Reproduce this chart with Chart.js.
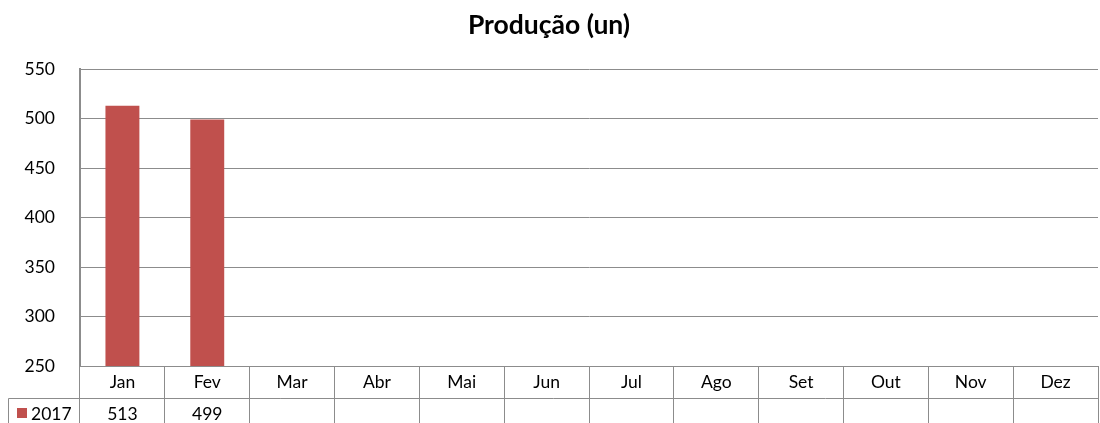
<!DOCTYPE html>
<html>
<head>
<meta charset="utf-8">
<script src="https://cdn.jsdelivr.net/npm/chart.js@4"></script>
<style>
  html, body { margin: 0; padding: 0; background: #fff; }
  #wrap { width: 1100px; height: 423px; }
</style>
</head>
<body>
<div id="wrap"><canvas id="chart"></canvas></div>
<script>
// dados
const meses = ['Jan', 'Fev', 'Mar', 'Abr', 'Mai', 'Jun', 'Jul', 'Ago', 'Set', 'Out', 'Nov', 'Dez'];
const serie = '2017';
const producao = [513, 499, null, null, null, null, null, null, null, null, null, null];
const yTicks = [250, 300, 350, 400, 450, 500, 550];

const fonte = 'Lato, "Liberation Sans", sans-serif';
const cinza = '#8c8c8c';
const vermelho = '#C0504D';

// linha de valores da tabela de dados (abaixo do eixo)
const tabelaPlugin = {
    id: 'tabela',
    afterDraw(chart) {
        const c = chart.ctx;
        const x = chart.scales.x;
        const top = chart.chartArea.bottom;
        const rowY = top + 32;
        c.save();
        c.strokeStyle = cinza;
        c.lineWidth = 1;
        c.beginPath();
        c.moveTo(8.5, rowY + 0.5);
        c.lineTo(chart.chartArea.right, rowY + 0.5);
        c.moveTo(8.5, rowY + 0.5);
        c.lineTo(8.5, chart.height);
        c.stroke();

        c.fillStyle = vermelho;
        c.fillRect(17, rowY + 10, 10, 10);
        c.fillStyle = '#000';
        c.font = '17.5px ' + fonte;
        c.textBaseline = 'middle';
        c.textAlign = 'left';
        c.fillText(serie, 31, rowY + 16);
        c.textAlign = 'center';
        producao.forEach((v, i) => {
            if (v !== null) c.fillText(String(v), x.getPixelForValue(i), rowY + 16);
        });
        c.restore();
    }
};

new Chart(document.getElementById('chart'), {
    type: 'bar',
    data: {
        labels: meses,
        datasets: [{
            label: serie,
            data: producao,
            backgroundColor: vermelho,
            categoryPercentage: 1,
            barPercentage: 0.4
        }]
    },
    options: {
        responsive: true,
        maintainAspectRatio: false,
        animation: false,
        layout: { padding: { left: 0, right: 2, top: 0, bottom: 0 } },
        plugins: {
            legend: { display: false },
            tooltip: { enabled: false },
            title: {
                display: true,
                text: 'Produção (un)',
                color: '#000',
                font: { family: fonte, size: 26.5, weight: 'bold', lineHeight: 1.2 },
                padding: { top: 9.6, bottom: 27.6 }
            }
        },
        scales: {
            x: {
                offset: true,
                grid: {
                    offset: true,
                    drawOnChartArea: false,
                    drawTicks: true,
                    tickLength: 57,
                    color: cinza
                },
                border: { color: cinza },
                ticks: {
                    color: '#000',
                    font: { family: fonte, size: 17.5 },
                    padding: -51,
                    maxRotation: 0
                },
                afterFit(scale) { scale.height = 57; }
            },
            y: {
                min: 250,
                max: 550,
                afterBuildTicks(scale) { scale.ticks = yTicks.map(v => ({ value: v })); },
                grid: { color: cinza, drawTicks: false },
                border: { color: cinza, width: 2 },
                ticks: {
                    color: '#000',
                    font: { family: fonte, size: 17.5 },
                    padding: 25
                },
                afterFit(scale) { scale.width = 80; }
            }
        }
    },
    plugins: [tabelaPlugin]
});
</script>
</body>
</html>
